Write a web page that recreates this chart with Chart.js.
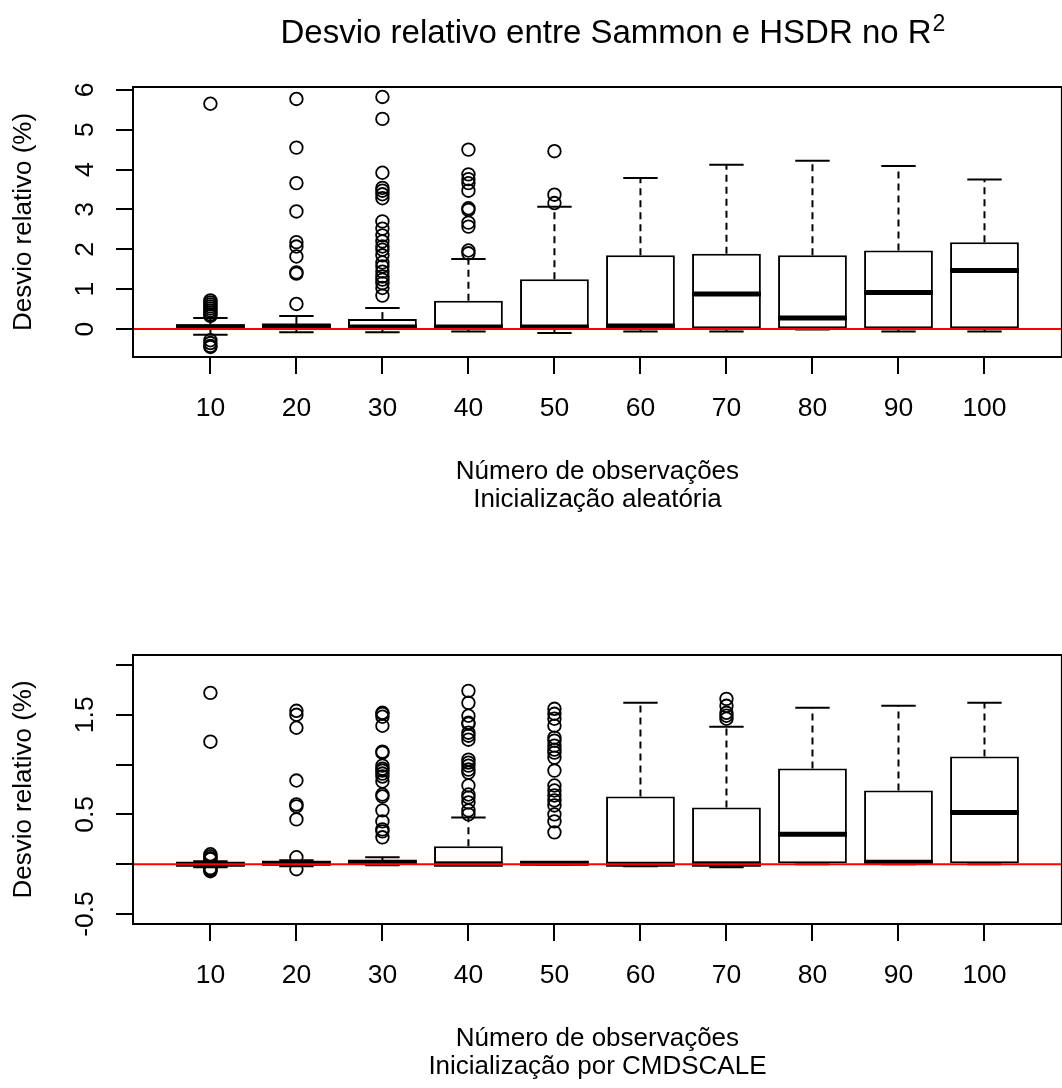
<!DOCTYPE html>
<html>
<head>
<meta charset="utf-8">
<script src="https://cdn.jsdelivr.net/npm/chart.js@4.4.1/dist/chart.umd.min.js"></script>
<style>
  html, body { margin: 0; padding: 0; background: #fff; overflow: hidden; }
  #wrap { position: relative; width: 1062px; height: 1088px; overflow: hidden; background: #fff; }
  canvas { position: absolute; left: 0; }
  #topChart { top: 0; }
  #bottomChart { top: 540px; }
</style>
</head>
<body>
<div id="wrap">
  <canvas id="topChart" width="1070" height="540"></canvas>
  <canvas id="bottomChart" width="1070" height="548"></canvas>
</div>
<script>
// ===== DATA =====
const CATEGORIES = ['10', '20', '30', '40', '50', '60', '70', '80', '90', '100'];

// top panel : inicialização aleatória
const TOP_Q1     = [0.01, 0.02, 0.01, 0.00, 0.00, 0.01, 0.02, 0.02, 0.02, 0.02];
const TOP_MEDIAN = [0.06, 0.08, 0.05, 0.05, 0.05, 0.08, 0.88, 0.28, 0.92, 1.47];
const TOP_Q3     = [0.12, 0.13, 0.25, 0.71, 1.25, 1.85, 1.89, 1.85, 1.97, 2.18];
const TOP_LOW    = [-0.14, -0.08, -0.08, -0.06, -0.10, -0.06, -0.06, -0.01, -0.06, -0.06];
const TOP_HIGH   = [0.28, 0.33, 0.53, 1.76, 3.07, 3.79, 4.12, 4.22, 4.09, 3.75];
const TOP_OUTLIERS = [
  [5.65, 0.72, 0.67, 0.62, 0.57, 0.52, 0.47, 0.42, 0.37, 0.33, -0.28, -0.35, -0.42, -0.45],
  [5.77, 4.55, 3.66, 2.95, 2.18, 2.07, 1.82, 1.42, 1.39, 0.63],
  [5.82, 5.27, 3.92, 3.54, 3.47, 3.38, 3.28, 2.70, 2.52, 2.35, 2.20, 2.07, 1.99, 1.85, 1.67, 1.57, 1.44, 1.32, 1.24, 1.15, 1.03, 0.84],
  [4.50, 3.88, 3.76, 3.66, 3.47, 3.03, 2.99, 2.67, 2.57, 1.97, 1.90],
  [4.46, 3.37, 3.16],
  [], [], [], [], []
];
const TOP_Y_TICKS  = [0, 1, 2, 3, 4, 5, 6];
const TOP_Y_LABELS = ['0', '1', '2', '3', '4', '5', '6'];

// bottom panel : inicialização por CMDSCALE
const BOT_Q1     = [-0.02, -0.01, 0.00, 0.00, 0.00, -0.01, 0.00, 0.00, 0.00, 0.00];
const BOT_MEDIAN = [0.00, 0.01, 0.02, 0.00, 0.01, 0.00, 0.00, 0.30, 0.02, 0.52];
const BOT_Q3     = [0.02, 0.03, 0.04, 0.18, 0.02, 0.68, 0.57, 0.96, 0.74, 1.08];
const BOT_LOW    = [-0.03, -0.02, -0.01, 0.00, 0.00, -0.02, -0.03, 0.00, 0.00, 0.00];
const BOT_HIGH   = [0.03, 0.04, 0.07, 0.47, 0.02, 1.62, 1.38, 1.57, 1.59, 1.62];
const BOT_OUTLIERS = [
  [1.72, 1.23, 0.10, 0.08, 0.06, 0.05, -0.04, -0.05, -0.06, -0.07],
  [1.54, 1.50, 1.37, 0.84, 0.60, 0.58, 0.45, 0.07, -0.05],
  [1.52, 1.51, 1.48, 1.39, 1.13, 1.12, 0.99, 0.96, 0.94, 0.91, 0.88, 0.83, 0.70, 0.68, 0.54, 0.43, 0.35, 0.33, 0.27],
  [1.74, 1.62, 1.49, 1.42, 1.41, 1.32, 1.29, 1.25, 1.05, 1.02, 0.99, 0.95, 0.92, 0.79, 0.70, 0.67, 0.62, 0.54, 0.50],
  [1.56, 1.51, 1.46, 1.39, 1.27, 1.24, 1.19, 1.15, 1.12, 1.07, 0.94, 0.79, 0.74, 0.69, 0.64, 0.59, 0.50, 0.43, 0.32],
  [],
  [1.66, 1.59, 1.52, 1.49, 1.46],
  [], [], []
];
const BOT_Y_TICKS  = [-0.5, 0, 0.5, 1, 1.5, 2];
const BOT_Y_LABELS = ['-0.5', '', '0.5', '', '1.5', ''];

const TITLE = 'Desvio relativo entre Sammon e HSDR no R';
const TITLE_SUP = '2';

// ===== STYLE =====
const FONT = '"Liberation Sans", Arial, sans-serif';
Chart.defaults.font.family = FONT;
Chart.defaults.color = '#000';

// ===== PLUGINS =====
// whiskers, staples, medians, the red zero line and the frame
const boxExtras = {
  id: 'boxExtras',
  afterDatasetsDraw(chart, args, o) {
    const {ctx, chartArea: a, scales: {x, y}} = chart;
    const unit = x.getPixelForValue(1) - x.getPixelForValue(0);
    const seg = (x1, y1, x2, y2) => { ctx.beginPath(); ctx.moveTo(x1, y1); ctx.lineTo(x2, y2); ctx.stroke(); };
    ctx.save();
    ctx.beginPath();
    ctx.rect(a.left, a.top, a.width, a.height);
    ctx.clip();
    ctx.strokeStyle = '#000';
    o.median.forEach((m, i) => {
      const cx = x.getPixelForValue(i + 1);
      ctx.lineWidth = 2;
      ctx.setLineDash([7, 5]);
      seg(cx, y.getPixelForValue(o.q3[i]), cx, y.getPixelForValue(o.high[i]));
      seg(cx, y.getPixelForValue(o.q1[i]), cx, y.getPixelForValue(o.low[i]));
      ctx.setLineDash([]);
      seg(cx - unit * 0.2, y.getPixelForValue(o.high[i]), cx + unit * 0.2, y.getPixelForValue(o.high[i]));
      seg(cx - unit * 0.2, y.getPixelForValue(o.low[i]), cx + unit * 0.2, y.getPixelForValue(o.low[i]));
      ctx.lineWidth = 5;
      seg(cx - unit * 0.4, y.getPixelForValue(m), cx + unit * 0.4, y.getPixelForValue(m));
    });
    // abline(h = 0, col = "red")
    ctx.strokeStyle = '#ff0000';
    ctx.lineWidth = 2;
    seg(a.left, y.getPixelForValue(0), a.right, y.getPixelForValue(0));
    ctx.restore();

    ctx.save();
    ctx.strokeStyle = '#000';
    ctx.lineWidth = 2;
    ctx.strokeRect(a.left, a.top, a.width, a.height);
    ctx.restore();
  }
};

// main title with superscript
const mainTitle = {
  id: 'mainTitle',
  afterDraw(chart) {
    const ctx = chart.ctx;
    const centerX = (chart.chartArea.left + chart.chartArea.right) / 2 + 15;
    ctx.save();
    ctx.fillStyle = '#000';
    ctx.textBaseline = 'alphabetic';
    ctx.textAlign = 'left';
    ctx.font = '33px ' + FONT;
    const w1 = ctx.measureText(TITLE).width;
    ctx.font = '23px ' + FONT;
    const w2 = ctx.measureText(TITLE_SUP).width;
    const x0 = centerX - (w1 + w2) / 2;
    ctx.font = '33px ' + FONT;
    ctx.fillText(TITLE, x0, 43);
    ctx.font = '23px ' + FONT;
    ctx.fillText(TITLE_SUP, x0 + w1 + 1, 31);
    ctx.restore();
  }
};

// ===== CHARTS =====
function outlierPoints(list) {
  const pts = [];
  list.forEach((vals, i) => vals.forEach(v => pts.push({x: i + 1, y: v})));
  return pts;
}

function makePanel(id, p) {
  return new Chart(document.getElementById(id), {
    type: 'bar',
    data: {
      datasets: [
        {
          type: 'scatter',
          data: outlierPoints(p.outliers),
          pointRadius: 6.3, pointHoverRadius: 6.3,
          borderWidth: 1.8, borderColor: '#000', backgroundColor: 'rgba(0,0,0,0)'
        },
        {
          data: p.q1.map((q, i) => ({x: i + 1, y: [q, p.q3[i]]})),
          backgroundColor: '#fff', borderColor: '#000', borderWidth: 2,
          borderSkipped: false, barPercentage: 0.8, categoryPercentage: 1
        }
      ]
    },
    options: {
      responsive: false,
      animation: false,
      events: [],
      layout: { padding: { top: p.padTop, right: 5, left: 0, bottom: 0 } },
      plugins: {
        legend: { display: false },
        tooltip: { enabled: false },
        boxExtras: { q1: p.q1, median: p.median, q3: p.q3, low: p.low, high: p.high }
      },
      scales: {
        x: {
          type: 'linear', min: 0.1, max: 10.9, offset: false, bounds: 'data',
          afterBuildTicks: s => { s.ticks = CATEGORIES.map((c, i) => ({value: i + 1})); },
          afterFit: s => { s.height = p.xAxisHeight; },
          grid: { drawOnChartArea: false, drawTicks: true, tickLength: 17, color: '#000', lineWidth: 2, offset: false },
          border: { display: false },
          ticks: {
            callback: v => CATEGORIES[v - 1] ?? '',
            font: { size: 26.5, lineHeight: '30px' }, padding: 20,
            maxRotation: 0, autoSkip: false
          },
          title: {
            display: true, text: ['Número de observações', p.xSub],
            font: { size: 26, lineHeight: '28px' },
            padding: { top: 35, bottom: p.xTitleBottom }
          }
        },
        y: {
          type: 'linear', min: p.ymin, max: p.ymax, bounds: 'data',
          afterBuildTicks: s => { s.ticks = p.yTicks.map(v => ({value: v})); },
          afterFit: s => { s.width = 133; },
          grid: { drawOnChartArea: false, drawTicks: true, tickLength: 17, color: '#000', lineWidth: 2 },
          border: { display: false },
          ticks: {
            callback: (v, i) => p.yLabels[i],
            minRotation: 90, maxRotation: 90, crossAlign: 'center',
            font: { size: 26.5, lineHeight: '30px' }, padding: p.yTickPad, autoSkip: false
          },
          title: {
            display: true, text: 'Desvio relativo (%)',
            font: { size: 26, lineHeight: '31px' },
            padding: { top: 8, bottom: 20 }
          }
        }
      }
    },
    plugins: p.title ? [boxExtras, mainTitle] : [boxExtras]
  });
}

makePanel('topChart', {
  q1: TOP_Q1, median: TOP_MEDIAN, q3: TOP_Q3, low: TOP_LOW, high: TOP_HIGH, outliers: TOP_OUTLIERS,
  yTicks: TOP_Y_TICKS, yLabels: TOP_Y_LABELS, ymin: -0.70, ymax: 6.07,
  yTickPad: 23, padTop: 87, xAxisHeight: 183, xTitleBottom: 26,
  xSub: 'Inicialização aleatória', title: true
});

makePanel('bottomChart', {
  q1: BOT_Q1, median: BOT_MEDIAN, q3: BOT_Q3, low: BOT_LOW, high: BOT_HIGH, outliers: BOT_OUTLIERS,
  yTicks: BOT_Y_TICKS, yLabels: BOT_Y_LABELS, ymin: -0.6, ymax: 2.1,
  yTickPad: 7, padTop: 115, xAxisHeight: 164, xTitleBottom: 7,
  xSub: 'Inicialização por CMDSCALE', title: false
});
</script>
</body>
</html>
